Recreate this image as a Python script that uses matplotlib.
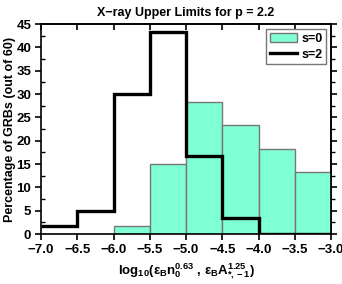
import numpy as np
import matplotlib
matplotlib.use("Agg")
import matplotlib.pyplot as plt
from matplotlib.patches import Patch
from matplotlib.lines import Line2D
from matplotlib.ticker import MultipleLocator, NullFormatter

bin_edges = [-7.0, -6.5, -6.0, -5.5, -5.0, -4.5, -4.0, -3.5, -3.0]
s0_pct = [0, 0, 1.67, 15.0, 28.33, 23.33, 18.33, 13.33]
s2_pct = [1.67, 5.0, 30.0, 43.33, 16.67, 3.33, 0, 0]
xtick_labels = ["\u22127.0", "\u22126.5", "\u22126.0", "\u22125.5", "\u22125.0", "\u22124.5", "\u22124.0", "\u22123.5", "\u22123.0"]

plt.rcParams['font.family'] = ['Liberation Sans', 'DejaVu Sans']
plt.rcParams['font.weight'] = 'bold'
plt.rcParams['mathtext.fontset'] = 'custom'
plt.rcParams['mathtext.rm'] = 'Liberation Sans:bold'
plt.rcParams['mathtext.it'] = 'Liberation Sans:bold'
plt.rcParams['mathtext.bf'] = 'Liberation Sans:bold'

fig = plt.figure(figsize=(3.42, 2.84), dpi=100)
ax = fig.add_axes([0.12, 0.176, 0.848, 0.739])

edges = np.array(bin_edges)
widths = np.diff(edges)
ax.bar(edges[:-1], s0_pct, width=widths, align='edge', color='#7fffd4',
       edgecolor='#777777', linewidth=1.0, zorder=2)
ax.stairs(s2_pct, edges, color='black', linewidth=2.4, zorder=3, baseline=None)

ax.set_xlim(-7, -3)
ax.set_ylim(0, 45)
ax.set_xticks(bin_edges)
ax.set_xticklabels(xtick_labels)
ax.yaxis.set_major_locator(MultipleLocator(5))
ax.yaxis.set_minor_locator(MultipleLocator(2.5))
ax.tick_params(axis='both', which='major', direction='out', length=4, width=1.2,
               labelsize=9.5, pad=3)
ax.tick_params(axis='y', which='minor', direction='in', length=3, width=1.0)

# top axis ticks (inward)
secx = ax.secondary_xaxis('top')
secx.set_xticks(bin_edges)
secx.xaxis.set_major_formatter(NullFormatter())
secx.tick_params(direction='in', length=4, width=1.2)
# right axis ticks (outward)
secy = ax.secondary_yaxis('right')
secy.yaxis.set_major_locator(MultipleLocator(5))
secy.yaxis.set_minor_locator(MultipleLocator(2.5))
secy.yaxis.set_major_formatter(NullFormatter())
secy.tick_params(which='major', direction='out', length=4, width=1.2)
secy.tick_params(which='minor', direction='out', length=3, width=1.0)
for a in (ax, secx, secy):
    for sp in a.spines.values():
        sp.set_linewidth(1.2)

ax.set_title('X\u2212ray Upper Limits for p = 2.2', fontsize=9, fontweight='bold', pad=6)
ax.set_ylabel('Percentage of GRBs (out of 60)', fontsize=9, fontweight='bold')
ax.yaxis.set_label_coords(-0.085, 0.5)
ax.set_xlabel(r'log$_{10}$($\varepsilon_{\rm B}$n$_0^{0.63}$ , $\varepsilon_{\rm B}$A$_{*,-1}^{1.25}$)',
              fontsize=9.5, fontweight='bold', labelpad=4)

handles = [Patch(facecolor='#7fffd4', edgecolor='#777777', label='s=0'),
           Line2D([0], [0], color='black', linewidth=2.4, label='s=2')]
leg = ax.legend(handles=handles, loc='upper right', fontsize=9, fancybox=False,
                edgecolor='#777777', framealpha=1, handlelength=2.2,
                borderpad=0.3, labelspacing=0.3, handletextpad=0.3,
                borderaxespad=0.4)
leg.get_frame().set_linewidth(1.0)

fig.savefig('out.png', dpi=100)
